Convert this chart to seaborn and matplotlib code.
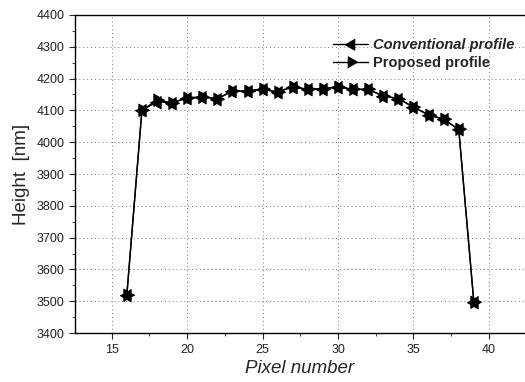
import numpy as np
import pandas as pd
import matplotlib
matplotlib.use("Agg")
import matplotlib.pyplot as plt
import seaborn as sns
from matplotlib.ticker import MultipleLocator

pixels = list(range(16, 40))
conventional = [3520, 4100, 4127, 4124, 4139, 4142, 4137, 4160, 4161, 4166, 4158, 4174,
                4166, 4168, 4174, 4166, 4166, 4145, 4137, 4110, 4086, 4072, 4040, 3497]
proposed = [3520, 4100, 4132, 4124, 4139, 4142, 4137, 4160, 4161, 4166, 4158, 4174,
            4166, 4168, 4174, 4166, 4166, 4145, 4137, 4110, 4086, 4072, 4040, 3497]
series_names = ["Conventional profile", "Proposed profile"]

df = pd.DataFrame({
    "Pixel number": pixels * 2,
    "Height": conventional + proposed,
    "Series": [series_names[0]] * len(pixels) + [series_names[1]] * len(pixels),
})

# centroid-centred equilateral triangles (overlap into a six-pointed star)
def tri(angles_deg):
    a = np.deg2rad(angles_deg)
    return [(float(np.cos(t)), float(np.sin(t))) for t in a]

left_tri = tri([180, 300, 60])
right_tri = tri([0, 120, 240])

sns.set_style("ticks")
plt.rcParams["font.family"] = ["Liberation Sans", "DejaVu Sans"]

fig = plt.figure(figsize=(5.25, 3.82), dpi=100)
ax = fig.add_axes([0.143, 0.128, 0.857, 0.833])

sns.lineplot(data=df, x="Pixel number", y="Height", hue="Series", style="Series",
             markers={series_names[0]: left_tri, series_names[1]: right_tri}, dashes=False,
             palette={series_names[0]: "black", series_names[1]: "black"},
             markersize=10.5, linewidth=1.0, markeredgecolor="black", ax=ax, legend=True)

ax.set_xlim(12.57, 42.39)
ax.set_ylim(3400, 4400)
ax.xaxis.set_major_locator(MultipleLocator(5))
ax.xaxis.set_minor_locator(MultipleLocator(2.5))
ax.yaxis.set_major_locator(MultipleLocator(100))
ax.yaxis.set_minor_locator(MultipleLocator(50))
ax.grid(True, which="major", linestyle=(0, (1, 3)), color="#777777", linewidth=0.7)
ax.tick_params(which="major", direction="out", length=4, width=0.8, labelsize=9, labelcolor="#222222")
ax.tick_params(which="minor", direction="out", length=2, width=0.6)
for s in ["left", "bottom", "top"]:
    ax.spines[s].set_color("black")
    ax.spines[s].set_linewidth(1.0)
ax.spines["right"].set_visible(False)

ax.set_xlabel("Pixel number", fontsize=13.5, style="italic", labelpad=3)
ax.set_ylabel("Height  [nm]", fontsize=13.5, labelpad=5)

leg = ax.legend(loc="upper right", bbox_to_anchor=(0.995, 0.955), frameon=False,
                handlelength=2.4, handletextpad=0.3, labelspacing=0.25, borderaxespad=0.2,
                prop={"size": 10.5, "weight": "bold"}, markerscale=0.9)
leg.get_texts()[0].set_style("italic")

fig.savefig("out.png", dpi=100)
